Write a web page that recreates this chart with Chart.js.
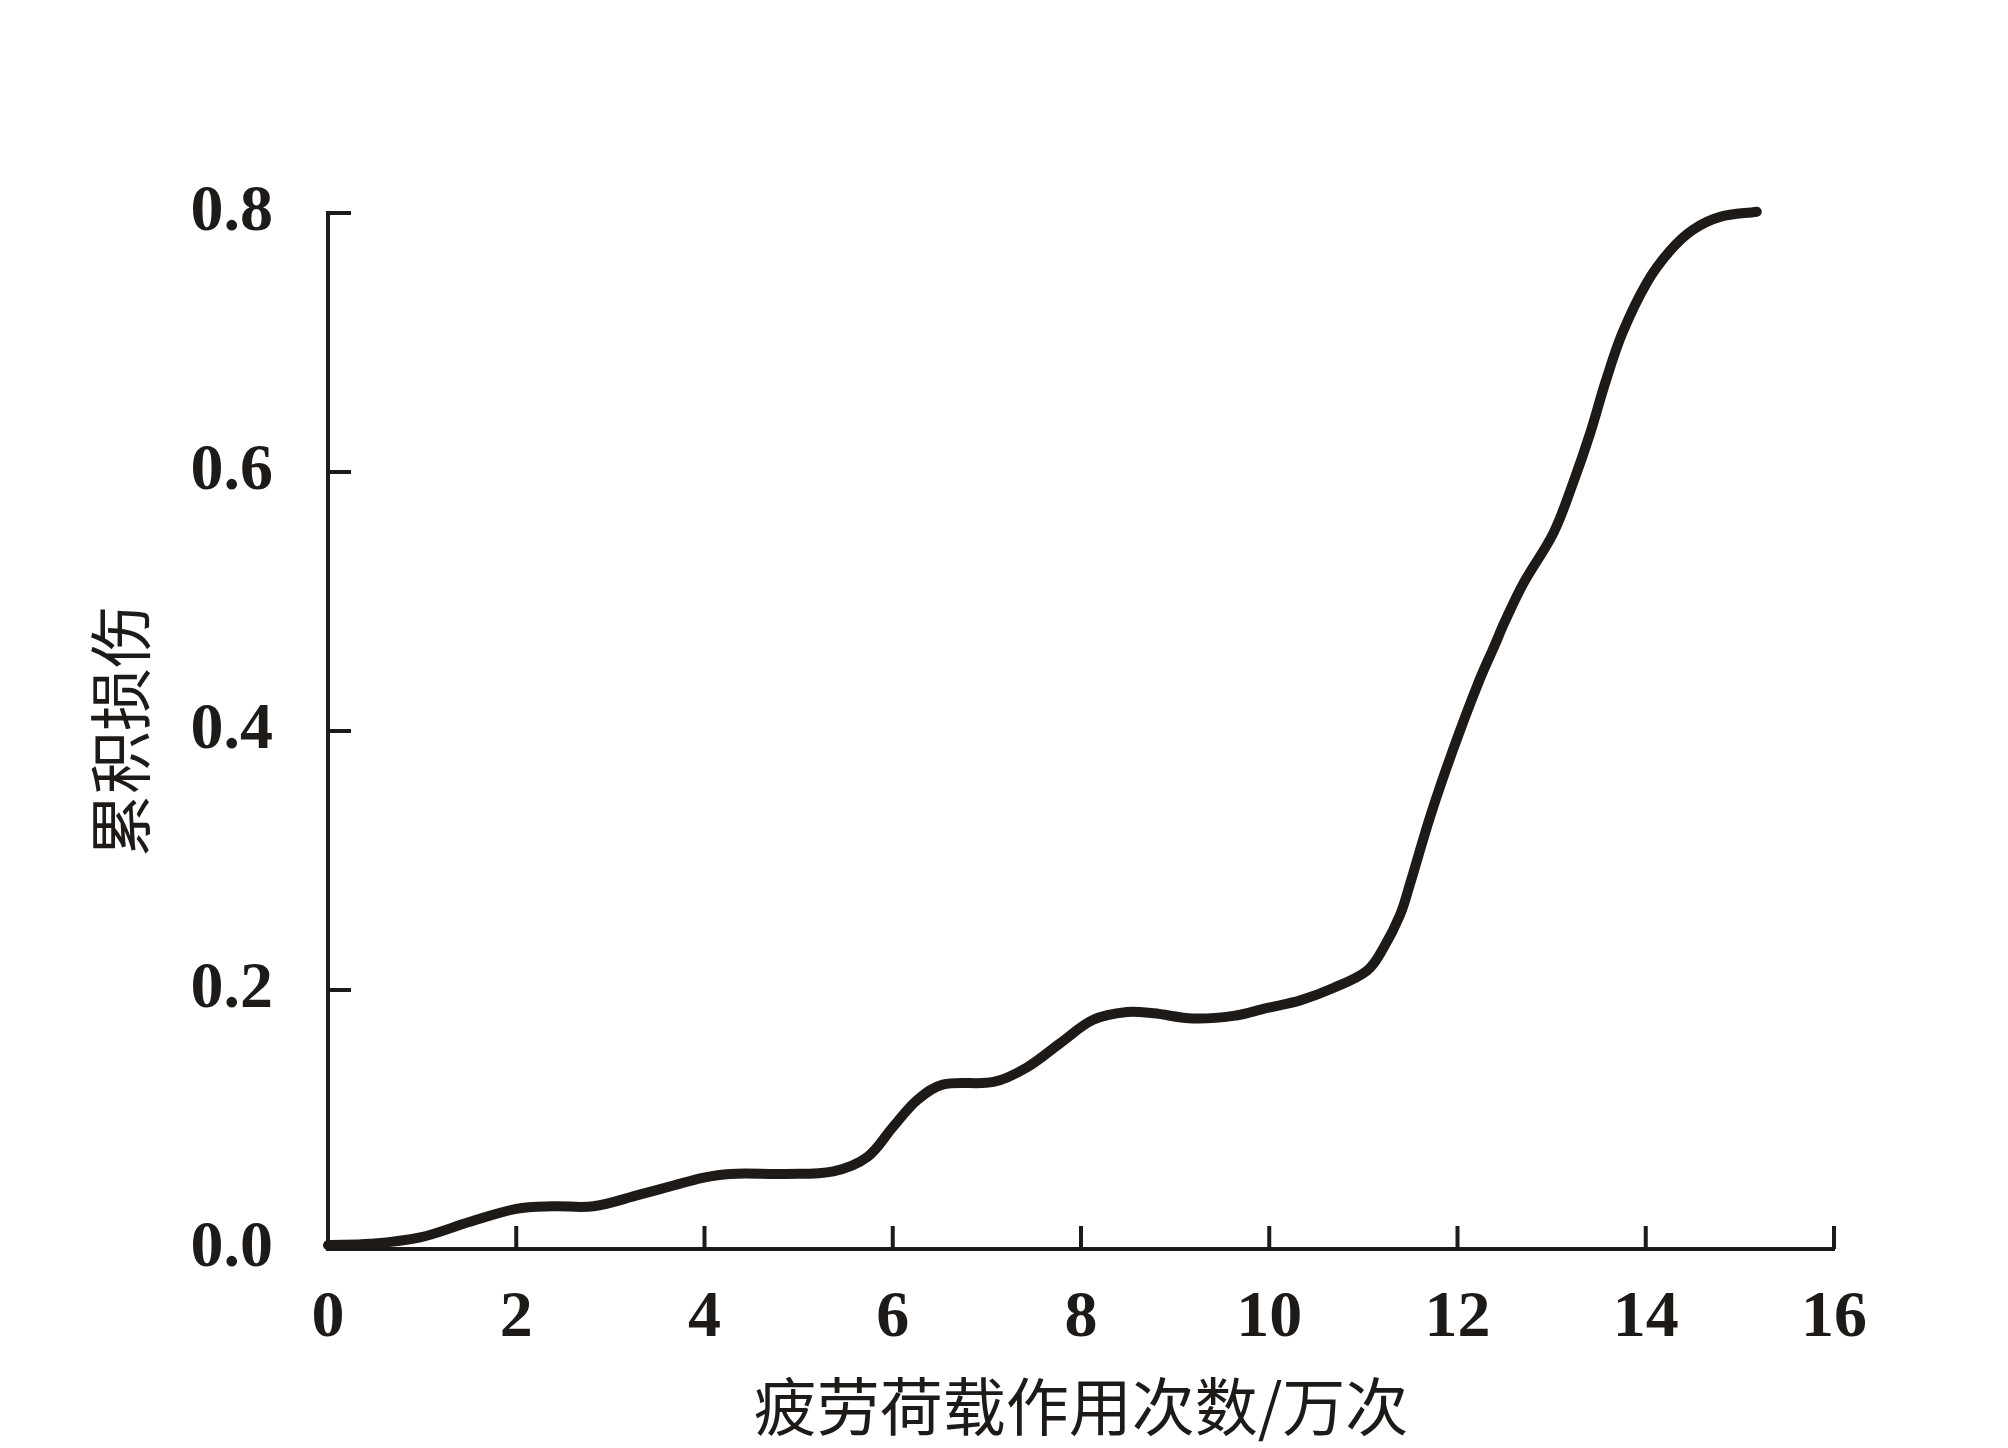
<!DOCTYPE html>
<html>
<head>
<meta charset="utf-8">
<script src="https://cdn.jsdelivr.net/npm/chart.js@4/dist/chart.umd.min.js"></script>
<style>
  html, body { margin: 0; padding: 0; background: #ffffff; }
  #wrap { width: 2008px; height: 1448px; }
</style>
</head>
<body>
<div id="wrap"><canvas id="chart" width="2008" height="1448"></canvas></div>
<script>
// values
const cycles = [0, 0.45, 0.98, 1.51, 2.0, 2.39, 2.82, 3.31, 3.67, 3.98, 4.27, 4.87, 5.37, 5.73, 6.0, 6.26, 6.53, 7.07, 7.42, 7.78, 8.13, 8.49, 8.77, 9.19, 9.62, 9.97, 10.33, 10.68, 11.04, 11.21, 11.39, 11.5, 11.71, 11.95, 12.22, 12.4, 12.5, 12.7, 13.02, 13.23, 13.41, 13.57, 13.75, 14.01, 14.26, 14.5, 14.79, 15.18];
const damage = [0.003, 0.004, 0.009, 0.021, 0.031, 0.033, 0.033, 0.042, 0.049, 0.055, 0.058, 0.058, 0.06, 0.071, 0.094, 0.115, 0.127, 0.129, 0.14, 0.159, 0.177, 0.183, 0.182, 0.178, 0.18, 0.186, 0.192, 0.2015, 0.215, 0.232, 0.258, 0.283, 0.334, 0.385, 0.437, 0.467, 0.484, 0.514, 0.553, 0.592, 0.63, 0.669, 0.707, 0.746, 0.771, 0.787, 0.797, 0.801];
const xTicks = [0, 2, 4, 6, 8, 10, 12, 14, 16];
const yTicks = [0, 0.2, 0.4, 0.6, 0.8];
const xTitle = "疲劳荷载作用次数/万次";
const yTitle = "累积损伤";

const ink = "#1e1a18";
const tickFont = { family: "'Liberation Serif', 'DejaVu Serif', serif", size: 66, weight: "bold" };
const cjkFont = { family: "'Noto Sans CJK SC', sans-serif", size: 63, weight: "normal" };

// ticks point into the plot area, so draw them ourselves from the scales
const innerTicks = {
    id: "innerTicks",
    beforeDatasetsDraw(chart) {
        const { ctx, chartArea, scales } = chart;
        const len = 23;
        ctx.save();
        ctx.strokeStyle = ink;
        ctx.lineWidth = 4;
        scales.x.ticks.forEach((t, i) => {
            if (t.value === 0) return;
            const px = scales.x.getPixelForTick(i);
            ctx.beginPath();
            ctx.moveTo(px, chartArea.bottom);
            ctx.lineTo(px, chartArea.bottom - len);
            ctx.stroke();
        });
        scales.y.ticks.forEach((t, i) => {
            if (t.value === 0) return;
            const py = scales.y.getPixelForTick(i);
            ctx.beginPath();
            ctx.moveTo(chartArea.left, py);
            ctx.lineTo(chartArea.left + len, py);
            ctx.stroke();
        });
        ctx.restore();
    }
};

const points = cycles.map((c, i) => ({ x: c, y: damage[i] }));

new Chart(document.getElementById("chart"), {
    type: "line",
    data: {
        datasets: [{
            data: points,
            borderColor: ink,
            borderWidth: 10,
            borderCapStyle: "round",
            pointRadius: 0,
            tension: 0.35,
            fill: false,
            clip: false
        }]
    },
    options: {
        responsive: false,
        animation: false,
        events: [],
        layout: { padding: { top: 213, right: 174, left: 0, bottom: 0 } },
        plugins: { legend: { display: false }, tooltip: { enabled: false } },
        scales: {
            x: {
                type: "linear",
                min: xTicks[0],
                max: xTicks[xTicks.length - 1],
                afterFit: s => { s.height = 199; },
                afterBuildTicks: s => { s.ticks = xTicks.map(v => ({ value: v })); },
                grid: { display: true, drawOnChartArea: false, drawTicks: false },
                border: { display: true, color: ink, width: 4 },
                ticks: { color: ink, font: tickFont, padding: 30, maxRotation: 0, callback: v => String(v) },
                title: { display: true, text: xTitle, color: ink, font: cjkFont, padding: { top: 0, bottom: 4 } }
            },
            y: {
                type: "linear",
                min: yTicks[0],
                max: yTicks[yTicks.length - 1],
                afterFit: s => { s.width = 328; },
                afterBuildTicks: s => { s.ticks = yTicks.map(v => ({ value: v })); },
                grid: { display: true, drawOnChartArea: false, drawTicks: false },
                border: { display: true, color: ink, width: 4 },
                ticks: { color: ink, font: tickFont, padding: 55, callback: v => Number(v).toFixed(1) },
                title: { display: true, text: yTitle, color: ink, font: cjkFont, padding: { top: 82, bottom: 0 } }
            }
        }
    },
    plugins: [innerTicks]
});
</script>
</body>
</html>
